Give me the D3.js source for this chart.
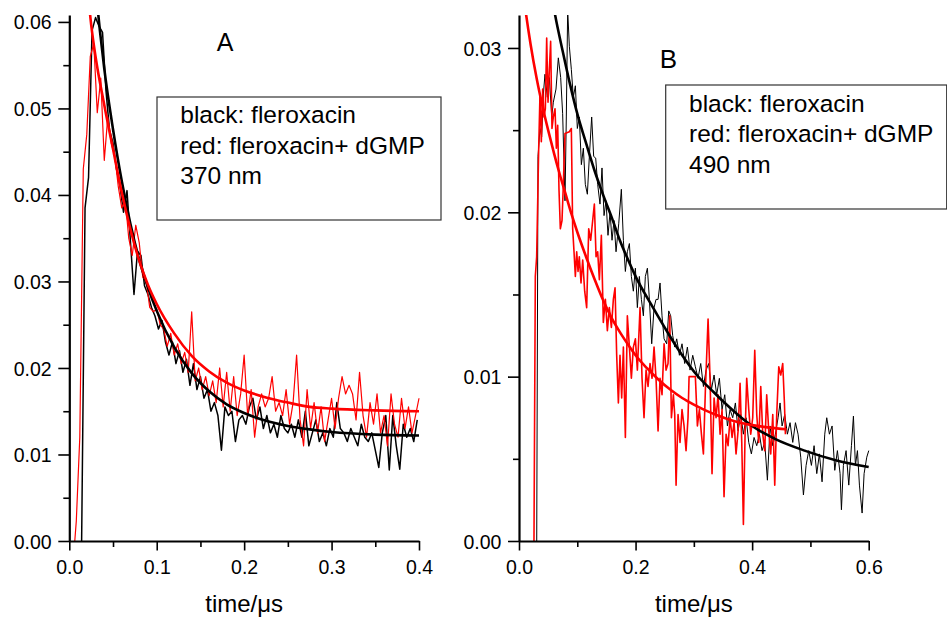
<!DOCTYPE html>
<html>
<head>
<meta charset="utf-8">
<script src="https://cdn.jsdelivr.net/npm/d3@7"></script>
<style>
  body { margin: 0; background: #fff; }
  text { font-family: "Liberation Sans", Arial, sans-serif; fill: #000; }
</style>
</head>
<body>
<svg id="chart" width="947" height="621"></svg>
<script>
// all signal values are in units of 1e-3 (absorbance), times in microseconds

// panel A (370 nm) raw traces, sampled every 0.004 us
const aDt = 0.004;
const aBlackT0 = 0.010;
const aBlackRaw = [-6, -1, 38.5, 42, 59, 60.5, 59.5, 58.8, 52, 47.5, 46, 43.0, 41.0, 38.0, 40.5, 34.5, 28.5, 33.5, 33.0, 29.5,
  28.5, 27.0, 26.0, 24.5, 25.5, 23.0, 21.5, 23.0, 20.5, 22.0, 19.5, 21.0, 18.0, 20.5, 17.5, 19.0, 16.5, 17.5, 15.0, 16.0,
  14.5, 10.5, 15.5, 14.5, 15.0, 11.5, 14.0, 14.5, 13.5, 15.5, 16.5, 14.0, 15.5, 13.0, 14.5, 12.5, 13.5, 12.0, 14.5, 13.0,
  12.5, 13.5, 12.0, 14.0, 12.0, 15.0, 11.0, 12.5, 14.0, 11.5, 12.5, 11.0, 13.0, 12.0, 16.0, 13.0, 12.5, 11.5, 13.0, 12.0,
  11.0, 13.5, 12.0, 11.5, 12.5, 10.5, 8.5, 12.5, 14.5, 8.2, 14.5, 11.0, 8.3, 13.5, 12.0, 13.0, 11.5, 14.0];
const aRedT0 = 0.004;
const aRedRaw = [-3, 2.3, 12, 43, 47, 56, 57.5, 49.5, 53.5, 44, 49, 46, 44.5, 41, 38.5, 39.5, 35, 33, 36.5, 34.5,
  30.5, 30, 27, 26.5, 26.8, 25.0, 24.5, 22.5, 24.0, 21.5, 22.8, 20.5, 21.8, 19.5, 26.5, 18.5, 20.0, 17.5, 19.0, 16.8,
  18.5, 16.0, 20.0, 15.5, 19.5, 15.0, 19.0, 14.5, 17.0, 21.5, 14.5, 17.5, 12.0, 15.5, 17.0, 15.5, 16.5, 19.0, 15.0, 16.0,
  14.5, 17.5, 13.5, 16.0, 21.5, 14.0, 11.0, 17.5, 13.0, 16.0, 12.5, 15.5, 11.5, 14.0, 16.5, 13.0, 16.5, 19.0, 17.0, 18.0,
  17.0, 14.0, 19.5, 14.5, 12.0, 16.0, 13.5, 17.0, 12.5, 14.5, 11.0, 17.0, 13.5, 12.0, 16.5, 13.0, 15.5, 12.5, 14.5, 16.5];

// panel A fitted curves [t, value]
const aBlackFit = [[0.030,64.0],[0.035,59.0],[0.040,54.6],[0.050,47.6],[0.060,41.6],[0.070,36.6],[0.080,32.5],
  [0.090,29.3],[0.100,26.6],[0.120,22.4],[0.140,19.4],[0.160,17.3],[0.180,15.8],[0.200,14.8],[0.225,13.9],
  [0.250,13.3],[0.275,12.9],[0.300,12.6],[0.350,12.3],[0.400,12.2]];
const aRedFit = [[0.020,64.5],[0.022,62.5],[0.025,59.7],[0.030,56.0],[0.040,50.4],[0.050,45.3],[0.060,40.3],
  [0.070,36.0],[0.080,32.4],[0.090,29.6],[0.100,27.4],[0.120,24.0],[0.140,21.4],[0.160,19.6],[0.180,18.3],
  [0.200,17.4],[0.225,16.6],[0.250,16.0],[0.275,15.5],[0.300,15.3],[0.350,15.1],[0.400,15.0]];

// panel B (490 nm) raw traces [t, value]
const bBlackRaw = [[0.0303,-1.2],[0.0326,23.4],[0.036,25.1],[0.0389,24.6],[0.0418,27.2],[0.0446,28.4],[0.0486,27.0],
  [0.0521,28.2],[0.0561,25.8],[0.0589,26.7],[0.0635,27.5],[0.0675,29.4],[0.0715,28.2],[0.0749,26.0],[0.0789,20.7],
  [0.0812,25.8],[0.0835,32.3],[0.0864,30.1],[0.0898,28.7],[0.0932,27.0],[0.0967,27.7],[0.1001,25.1],[0.1035,25.8],
  [0.1070,22.9],[0.1104,23.9],[0.1138,21.7],[0.1173,21.1],[0.1207,23.4],[0.1247,25.8],[0.1281,23.4],[0.1316,23.3],
  [0.1350,21.7],[0.1390,20.5],[0.1424,22.7],[0.1459,19.8],[0.1493,20.7],[0.1527,18.6],[0.1562,20.0],[0.1596,18.3],
  [0.1630,19.5],[0.1665,17.6],[0.1711,19.3],[0.1756,21.4],[0.1791,18.3],[0.1825,16.4],[0.1859,17.6],[0.1894,18.1],
  [0.1928,16.1],[0.1962,15.2],[0.1997,16.6],[0.2031,14.2],[0.2065,16.1],[0.2100,14.7],[0.2134,13.7],[0.2168,16.1],
  [0.2203,16.6],[0.2237,14.7],[0.2277,12.0],[0.2317,14.2],[0.2351,14.7],[0.2386,14.7],[0.2420,15.7],[0.2454,13.7],
  [0.2489,12.3],[0.2534,12.0],[0.2569,14.0],[0.2603,13.7],[0.2637,12.5],[0.2672,11.8],[0.2706,12.3],[0.2752,11.3],
  [0.2797,12.0],[0.2843,10.8],[0.2889,11.8],[0.2935,10.4],[0.2981,11.3],[0.3026,10.6],[0.3072,9.9],[0.3118,10.8],
  [0.3164,9.4],[0.3210,10.4],[0.3255,10.8],[0.3301,9.2],[0.3347,10.1],[0.3392,8.9],[0.3438,9.9],[0.3484,8.0],
  [0.3530,8.9],[0.3576,7.0],[0.3621,8.0],[0.3667,7.5],[0.3713,8.4],[0.3759,6.7],[0.3804,7.7],[0.3850,6.5],
  [0.3896,7.5],[0.3942,6.0],[0.3987,5.3],[0.4033,6.3],[0.4079,5.8],[0.4125,6.5],[0.4170,5.5],[0.4216,6.0],
  [0.4262,3.7],[0.4308,7.0],[0.4354,5.8],[0.4399,6.5],[0.4445,7.5],[0.4479,8.4],[0.4514,7.0],[0.4559,7.7],
  [0.4605,6.5],[0.4651,7.2],[0.4697,6.0],[0.4743,7.2],[0.4788,6.5],[0.4834,5.1],[0.4880,2.8],[0.4926,4.6],
  [0.4971,5.5],[0.5017,4.6],[0.5063,5.8],[0.5109,4.1],[0.5154,5.3],[0.5200,3.6],[0.5246,6.5],[0.5280,7.5],
  [0.5326,6.5],[0.5372,7.0],[0.5418,4.3],[0.5463,5.5],[0.5509,4.1],[0.5532,1.9],[0.5566,4.6],[0.5612,5.5],
  [0.5658,3.4],[0.5704,5.8],[0.5738,7.6],[0.5772,4.6],[0.5807,5.5],[0.5841,3.4],[0.5887,1.7],[0.5921,4.1],
  [0.5967,5.1],[0.6001,5.5]];
const bRedRaw = [[0.0235,-1.2],[0.0257,0],[0.0280,16.1],[0.0303,17.3],[0.0338,23.9],[0.0360,27.2],[0.0383,24.3],
  [0.0406,27.5],[0.0429,25.8],[0.0452,26.3],[0.0475,30.6],[0.0498,26.7],[0.0521,28.7],[0.0543,30.4],[0.0566,25.1],
  [0.0589,25.8],[0.0618,26.3],[0.0641,23.9],[0.0664,25.3],[0.0686,21.4],[0.0709,19.0],[0.0738,19.5],[0.0761,21.7],
  [0.0789,24.8],[0.0864,24.9],[0.0898,25.1],[0.0921,19.0],[0.0944,17.6],[0.0967,16.1],[0.0990,17.6],[0.1013,16.4],
  [0.1035,17.3],[0.1064,15.7],[0.1093,17.1],[0.1127,15.2],[0.1161,14.2],[0.1196,19.0],[0.1230,18.3],[0.1264,19.5],
  [0.1293,20.5],[0.1322,17.3],[0.1350,17.6],[0.1379,15.9],[0.1413,18.6],[0.1447,13.3],[0.1482,14.7],[0.1516,12.8],
  [0.1550,14.2],[0.1585,13.0],[0.1619,14.7],[0.1648,15.4],[0.1676,11.3],[0.1705,8.4],[0.1733,11.3],[0.1762,8.7],
  [0.1791,11.8],[0.1825,6.3],[0.1859,13.7],[0.1894,11.8],[0.1928,9.9],[0.1962,11.8],[0.1997,12.3],[0.2031,10.4],
  [0.2077,14.2],[0.2111,9.9],[0.2145,7.5],[0.2180,10.4],[0.2214,9.4],[0.2248,10.8],[0.2283,9.9],[0.2317,11.8],
  [0.2351,9.9],[0.2386,6.7],[0.2420,9.9],[0.2454,8.9],[0.2489,12.0],[0.2523,10.4],[0.2557,10.8],[0.2586,13.7],
  [0.2615,7.5],[0.2649,8.9],[0.2672,7.7],[0.2695,3.4],[0.2729,7.7],[0.2763,6.0],[0.2797,8.0],[0.2832,7.0],
  [0.2866,5.5],[0.2900,7.5],[0.2918,10.0],[0.3026,10.0],[0.3061,7.0],[0.3095,8.0],[0.3130,6.5],[0.3164,5.3],
  [0.3198,9.2],[0.3244,13.5],[0.3278,9.9],[0.3312,4.1],[0.3347,8.7],[0.3381,7.5],[0.3415,8.9],[0.3450,6.5],
  [0.3484,8.0],[0.3518,2.7],[0.3553,6.5],[0.3587,5.8],[0.3621,7.5],[0.3656,6.3],[0.3690,7.2],[0.3724,5.3],
  [0.3759,6.7],[0.3793,9.6],[0.3822,6.0],[0.3850,1.0],[0.3879,6.5],[0.3907,9.9],[0.3942,8.0],[0.3976,6.5],
  [0.4010,7.5],[0.4045,11.6],[0.4079,7.7],[0.4113,6.0],[0.4148,9.4],[0.4182,6.5],[0.4216,5.5],[0.4250,8.9],
  [0.4285,6.7],[0.4319,5.3],[0.4354,7.7],[0.4388,3.4],[0.4422,7.7],[0.4457,10.6],[0.4491,10.1],[0.4525,10.8],
  [0.4554,8.4],[0.4571,6.5]];

// panel B fitted curves [t, value]
const bBlackFit = [[0.050,34.5],[0.062,32.0],[0.075,29.8],[0.0875,27.8],[0.100,26.0],[0.116,24.1],[0.130,22.5],
  [0.145,21.0],[0.160,19.6],[0.173,18.3],[0.186,17.2],[0.200,16.1],[0.230,14.2],[0.260,12.4],[0.280,11.3],
  [0.305,10.1],[0.330,9.2],[0.350,8.5],[0.375,7.7],[0.400,7.0],[0.440,6.2],[0.490,5.5],[0.545,4.9],[0.600,4.5]];
const bRedFit = [[0.005,34.0],[0.010,32.6],[0.020,30.2],[0.030,28.2],[0.040,26.5],[0.050,25.0],[0.060,23.6],
  [0.070,22.3],[0.080,21.1],[0.090,19.9],[0.100,18.8],[0.115,17.3],[0.130,15.9],[0.145,14.6],[0.160,13.5],
  [0.175,12.6],[0.190,11.8],[0.200,11.3],[0.220,10.5],[0.240,9.8],[0.260,9.2],[0.280,8.7],[0.300,8.3],
  [0.320,7.95],[0.340,7.65],[0.360,7.4],[0.380,7.2],[0.400,7.05],[0.430,6.9],[0.459,6.8]];

// ticks
const aXTicks = [0, 0.1, 0.2, 0.3, 0.4];
const aXMinor = [0.05, 0.15, 0.25, 0.35];
const aYTicks = [0, 0.01, 0.02, 0.03, 0.04, 0.05, 0.06];
const aYMinor = [0.005, 0.015, 0.025, 0.035, 0.045, 0.055];
const bXTicks = [0, 0.2, 0.4, 0.6];
const bXMinor = [0.1, 0.3, 0.5];
const bYTicks = [0, 0.01, 0.02, 0.03];
const bYMinor = [0.005, 0.015, 0.025];

const aNotes = ["black: fleroxacin", "red: fleroxacin+ dGMP", "370 nm"];
const bNotes = ["black: fleroxacin", "red: fleroxacin+ dGMP", "490 nm"];

const svg = d3.select("#chart");
svg.append("rect").attr("width", 947).attr("height", 621).attr("fill", "#fff");

const aBlackPts = aBlackRaw.map((v, i) => [aBlackT0 + i * aDt, v]);
const aRedPts = aRedRaw.map((v, i) => [aRedT0 + i * aDt, v]);

function drawPanel(p) {
  const x = d3.scaleLinear().domain(p.xDomain).range(p.xRange);
  const y = d3.scaleLinear().domain(p.yDomain).range(p.yRange);
  const g = svg.append("g");

  const clipId = "clip-" + p.name;
  svg.append("clipPath").attr("id", clipId).append("rect")
    .attr("x", p.xRange[0]).attr("y", p.yRange[1])
    .attr("width", p.xRange[1] - p.xRange[0] + 2)
    .attr("height", p.yRange[0] - p.yRange[1]);

  const raw = d3.line().x(d => x(d[0])).y(d => y(d[1] / 1000));
  const fit = d3.line().x(d => x(d[0])).y(d => y(d[1] / 1000)).curve(d3.curveMonotoneX);

  const plot = g.append("g").attr("clip-path", `url(#${clipId})`);
  plot.append("path").attr("d", raw(p.blackRaw)).attr("fill", "none")
    .attr("stroke", "#000").attr("stroke-width", p.blackW).attr("stroke-linejoin", "round");
  plot.append("path").attr("d", raw(p.redRaw)).attr("fill", "none")
    .attr("stroke", "#ff0000").attr("stroke-width", p.redW).attr("stroke-linejoin", "round");
  plot.append("path").attr("d", fit(p.blackFit)).attr("fill", "none")
    .attr("stroke", "#000").attr("stroke-width", 2.6);
  plot.append("path").attr("d", fit(p.redFit)).attr("fill", "none")
    .attr("stroke", "#ff0000").attr("stroke-width", 2.6);

  // minor ticks
  g.append("g").attr("transform", `translate(${p.xRange[0]},0)`)
    .call(d3.axisLeft(y).tickValues(p.yMinor).tickSize(6).tickFormat(""))
    .call(a => a.select(".domain").remove())
    .call(a => a.selectAll("line").attr("stroke-width", 1.6));
  g.append("g").attr("transform", `translate(0,${p.yRange[0]})`)
    .call(d3.axisBottom(x).tickValues(p.xMinor).tickSize(6).tickFormat(""))
    .call(a => a.select(".domain").remove())
    .call(a => a.selectAll("line").attr("stroke-width", 1.6));

  // major ticks + labels
  g.append("g").attr("transform", `translate(${p.xRange[0]},0)`)
    .call(d3.axisLeft(y).tickValues(p.yTicks).tickSize(11).tickSizeOuter(0).tickFormat(d3.format(".2f")))
    .call(a => a.select(".domain").attr("stroke-width", 2.2))
    .call(a => a.selectAll("line").attr("stroke-width", 1.6))
    .call(a => a.selectAll("text").attr("x", -17.6).attr("dy", "0.36em")
      .attr("font-size", 19.5).attr("fill", "#000"));
  g.append("g").attr("transform", `translate(0,${p.yRange[0]})`)
    .call(d3.axisBottom(x).tickValues(p.xTicks).tickSize(9.5).tickSizeOuter(0).tickFormat(d3.format(".1f")))
    .call(a => a.select(".domain").attr("stroke-width", 2.2))
    .call(a => a.selectAll("line").attr("stroke-width", 1.6))
    .call(a => a.selectAll("text").attr("y", 33).attr("dy", null)
      .attr("font-size", 19.5).attr("fill", "#000"));

  // axis title
  const midX = (p.xRange[0] + p.xRange[1]) / 2;
  g.append("text").attr("text-anchor", "middle").attr("font-size", 24)
    .attr("x", midX).attr("y", 612)
    .text("time/\u03bcs");

  // panel letter
  g.append("text").attr("text-anchor", "middle").attr("font-size", p.letterSize)
    .attr("x", p.letterX).attr("y", p.letterY)
    .text(p.name);

  // note box
  g.append("rect").attr("x", p.box[0]).attr("y", p.box[1])
    .attr("width", p.box[2]).attr("height", p.box[3])
    .attr("fill", "#fff").attr("stroke", "#333").attr("stroke-width", 1.2);
  p.notes.forEach((t, i) => {
    g.append("text").attr("font-size", 24.5)
      .attr("x", p.noteX).attr("y", p.noteY + i * p.noteGap)
      .text(t);
  });
}

drawPanel({
  name: "A", xDomain: [0, 0.4], yDomain: [0, 0.0608],
  xRange: [69.3, 419], yRange: [541, 15],
  xTicks: aXTicks, xMinor: aXMinor, yTicks: aYTicks, yMinor: aYMinor,
  blackRaw: aBlackPts, redRaw: aRedPts, blackFit: aBlackFit, redFit: aRedFit,
  blackW: 1.5, redW: 1.2,
  letterX: 225, letterY: 51.3, letterSize: 25,
  box: [157, 97, 284, 123], notes: aNotes, noteX: 180.3, noteY: 123.2, noteGap: 30.6
});

drawPanel({
  name: "B", xDomain: [0, 0.6], yDomain: [0, 0.032],
  xRange: [519, 868.7], yRange: [541, 15.1],
  xTicks: bXTicks, xMinor: bXMinor, yTicks: bYTicks, yMinor: bYMinor,
  blackRaw: bBlackRaw, redRaw: bRedRaw, blackFit: bBlackFit, redFit: bRedFit,
  blackW: 1.0, redW: 1.6,
  letterX: 668.3, letterY: 67.9, letterSize: 26,
  box: [665.7, 85, 281, 124], notes: bNotes, noteX: 689, noteY: 111.7, noteGap: 30.4
});
</script>
</body>
</html>
